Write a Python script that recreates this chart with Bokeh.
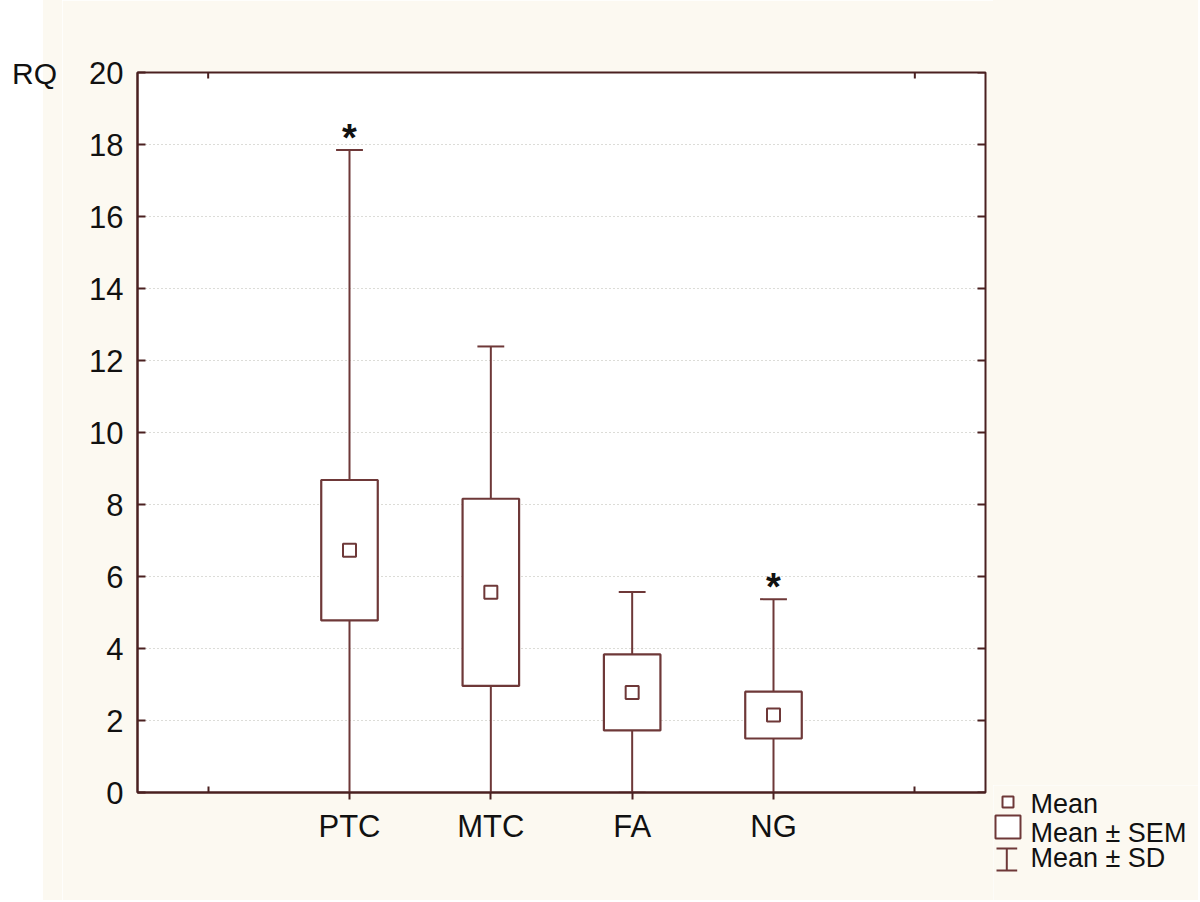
import math
from bokeh.plotting import figure
from bokeh.models import Range1d, FixedTicker, Spacer, Div, ColumnDataSource
from bokeh.layouts import row, column
from bokeh.core.properties import value
from bokeh.embed import file_html
from bokeh.resources import INLINE

# ---------------- data ----------------
categories = ["PTC", "MTC", "FA", "NG"]
mean = [6.73, 5.56, 2.78, 2.15]
sem = [1.95, 2.60, 1.055, 0.65]
sd = [11.12, 6.83, 2.79, 3.22]
significant = [True, False, False, True]
y_ticks = [0, 2, 4, 6, 8, 10, 12, 14, 16, 18, 20]
y_title = "RQ"
legend_labels = ["Mean", "Mean ± SEM", "Mean ± SD"]

# ---------------- style ----------------
CREAM = "#fcf9f1"
FRAME = "#4a2020"
BOXC = "#6e3838"
FONT = "Liberation Sans"
LEFT_W = 62

xpos = [1.5 + i for i in range(len(categories))]
sem_lo = [m - s for m, s in zip(mean, sem)]
sem_hi = [m + s for m, s in zip(mean, sem)]
sd_lo = [m - s for m, s in zip(mean, sd)]
sd_hi = [m + s for m, s in zip(mean, sd)]
BOX_HW = 0.20
CAP_HW = 0.095

src = ColumnDataSource(dict(
    x=xpos, mean=mean, sem_lo=sem_lo, sem_hi=sem_hi, sd_lo=sd_lo, sd_hi=sd_hi,
    left=[x - BOX_HW for x in xpos], right=[x + BOX_HW for x in xpos],
    cl=[x - CAP_HW for x in xpos], cr=[x + CAP_HW for x in xpos],
))

p = figure(x_range=Range1d(0, 6), y_range=Range1d(0, 20),
           frame_width=848, frame_height=720,
           min_border_left=137 - LEFT_W, min_border_right=8,
           min_border_top=72, min_border_bottom=108,
           output_backend="svg", toolbar_location=None,
           background_fill_color="white", border_fill_color=CREAM,
           outline_line_color=FRAME, outline_line_width=2, margin=0)

# x axis
xa = p.xaxis[0]
xa.ticker = FixedTicker(ticks=xpos, minor_ticks=[0.5, 5.5])
xa.major_label_overrides = {x: c for x, c in zip(xpos, categories)}
xa.major_tick_out = 7
xa.major_tick_in = 0
xa.minor_tick_in = 6
xa.minor_tick_out = 0
xa.major_label_standoff = 9
xa.axis_line_color = FRAME
xa.axis_line_width = 2
xa.major_tick_line_color = FRAME
xa.major_tick_line_width = 2
xa.minor_tick_line_color = FRAME
xa.minor_tick_line_width = 2
xa.major_label_text_font = FONT
xa.major_label_text_font_size = "31px"
xa.major_label_text_color = "#111111"

# y axis
ya = p.yaxis[0]
ya.ticker = FixedTicker(ticks=y_ticks, minor_ticks=[])
ya.major_tick_in = 8
ya.major_tick_out = 0
ya.major_label_standoff = 14
ya.axis_line_color = FRAME
ya.axis_line_width = 2
ya.major_tick_line_color = FRAME
ya.major_tick_line_width = 2
ya.major_label_text_font = FONT
ya.major_label_text_font_size = "31px"
ya.major_label_text_color = "#111111"

p.xgrid.visible = False
p.ygrid.ticker = FixedTicker(ticks=y_ticks[1:-1], minor_ticks=[])
p.ygrid.grid_line_color = "#b9b9b0"
p.ygrid.grid_line_dash = "1 3"
p.ygrid.grid_line_width = 1.2

# inward ticks on the right and top frame edges (clipped half of a dash)
p.scatter(x=[6] * len(y_ticks), y=y_ticks, marker="dash", size=16,
          line_color=FRAME, line_width=2)
p.scatter(x=[0.5, 5.5], y=[20, 20], marker="dash", size=12, angle=math.pi / 2,
          line_color=FRAME, line_width=2)

# whiskers
p.segment(x0="x", y0="sem_hi", x1="x", y1="sd_hi", source=src,
          line_color=BOXC, line_width=2)
p.segment(x0="x", y0="sem_lo", x1="x", y1="sd_lo", source=src,
          line_color=BOXC, line_width=2)
p.segment(x0="cl", y0="sd_hi", x1="cr", y1="sd_hi", source=src,
          line_color=BOXC, line_width=2)
p.segment(x0="cl", y0="sd_lo", x1="cr", y1="sd_lo", source=src,
          line_color=BOXC, line_width=2)
# SEM boxes
p.quad(left="left", right="right", top="sem_hi", bottom="sem_lo", source=src,
       fill_color="white", line_color=BOXC, line_width=2.2)
# mean markers
p.scatter(x="x", y="mean", source=src, marker="square", size=13,
          fill_color="white", line_color=BOXC, line_width=2)
# asterisks
sx = [x for x, s in zip(xpos, significant) if s]
sy = [y for y, s in zip(sd_hi, significant) if s]
p.text(x=sx, y=sy, text=["*"] * len(sx), text_align="center",
       text_baseline="middle", y_offset=-12, text_font=value(FONT),
       text_font_style="bold", text_font_size="38px", text_color="#111111")

# ---------------- left column with the RQ title ----------------
rq = Div(text=f'<div style="padding-left:12px;font-family:\'{FONT}\';'
              f'font-size:30px;line-height:34px;color:#111111;'
              f'white-space:nowrap">{y_title}</div>',
         width=LEFT_W, height=40, margin=0)
left_col = column(Spacer(width=LEFT_W, height=57, margin=0), rq,
                  Spacer(width=LEFT_W, height=803, margin=0), margin=0,
                  styles={"background": f"linear-gradient(to right, white 43px, {CREAM} 43px)"})

# ---------------- legend figure ----------------
LW, LH = 205, 115
leg = figure(width=LW, height=LH, x_range=Range1d(0, LW), y_range=Range1d(LH, 0),
             x_axis_type=None, y_axis_type=None, min_border=0,
             output_backend="svg", toolbar_location=None,
             background_fill_color=CREAM, border_fill_color=CREAM,
             outline_line_color=None, margin=0)
leg.grid.visible = False
leg.scatter(x=[14.5], y=[16.5], marker="square", size=11, fill_color="white",
            line_color=BOXC, line_width=2)
leg.quad(left=[2], right=[27], top=[30], bottom=[53], fill_color="white",
         line_color=BOXC, line_width=2)
leg.segment(x0=[13.3, 3, 3], y0=[63, 63, 85], x1=[13.3, 23.7, 23.7],
            y1=[85, 63, 85], line_color=BOXC, line_width=2)
leg.text(x=[37, 37, 37], y=[18, 47.5, 72], text=legend_labels,
         text_baseline="middle", text_align="left", text_font=value(FONT),
         text_font_size="27px", text_color="#111111")

right_col = column(Spacer(width=LW, height=785, margin=0,
                          styles={"background-color": CREAM}), leg, margin=0)
layout = row(left_col, p, right_col, margin=0)

open("out.html", "w").write(file_html(layout, INLINE))
